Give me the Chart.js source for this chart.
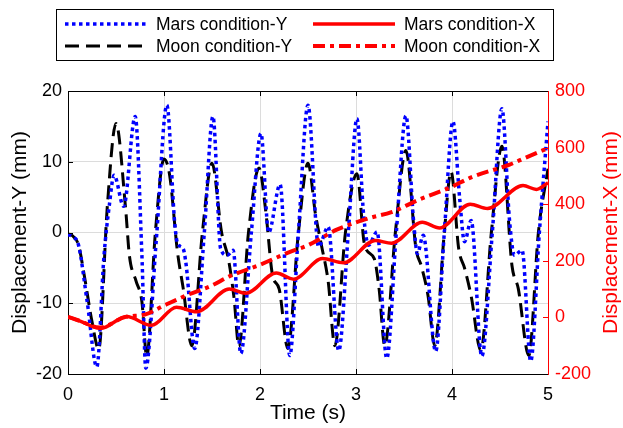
<!DOCTYPE html>
<html>
<head>
<meta charset="utf-8">
<script src="https://cdn.jsdelivr.net/npm/chart.js@4.4.0/dist/chart.umd.min.js"></script>
<style>
  html, body { margin: 0; padding: 0; background: #fff; }
  canvas { display: block; }
</style>
</head>
<body>
<canvas id="chart" width="623" height="428"></canvas>
<script>
// values (time in s, displacement in mm)
const marsYTime = [0, 0.05, 0.11, 0.2, 0.30, 0.375, 0.43, 0.48, 0.58, 0.70, 0.77, 0.81, 0.92, 1.03, 1.11,
  1.14, 1.20, 1.23, 1.32, 1.42, 1.51, 1.59, 1.66, 1.72, 1.80, 1.91, 2.01, 2.09, 2.21, 2.31,
  2.40, 2.50, 2.61, 2.71, 2.82, 2.92, 3.01, 3.08, 3.13, 3.22, 3.32, 3.42, 3.52, 3.60, 3.64,
  3.70, 3.83, 3.92, 4.01, 4.08, 4.13, 4.20, 4.31, 4.42, 4.52, 4.60, 4.65, 4.73, 4.82, 4.91, 5.0];
const marsY = [-0.3, -0.6, -1.8, -9.8, -19.0, -3.3, 3.8, 8.1, 3.7, 16.4, -3.3, -19.2, -1, 18.0, 1.6,
  -1.5, -2.3, -4.5, -16.4, 0, 16.4, -2.3, -3.2, -2.5, -17.1, 0, 14.0, 0, 6.8, -17.4,
  0, 18.0, -2, 0.8, -16.7, 0, 16.1, 2.4, -1.8, 0.1, -17.8, 0, 16.5, 1.6, -3,
  -0.4, -16.8, 0, 15.7, 4.8, -1.3, 1.7, -17.5, 0, 17.5, 1.6, -3.2, -2.5, -18.2, 0, 15.7];

const moonYTime = [0, 0.05, 0.11, 0.17, 0.25, 0.32, 0.41, 0.50, 0.60, 0.64, 0.71, 0.77, 0.82, 0.91, 1.00,
  1.06, 1.14, 1.20, 1.29, 1.40, 1.50, 1.60, 1.67, 1.73, 1.78, 1.88, 1.99, 2.06, 2.13, 2.20,
  2.29, 2.40, 2.50, 2.58, 2.64, 2.71, 2.78, 2.89, 3.01, 3.09, 3.19, 3.24, 3.30, 3.41, 3.52,
  3.625, 3.68, 3.75, 3.82, 3.92, 3.99, 4.07, 4.13, 4.20, 4.30, 4.41, 4.52, 4.625, 4.69, 4.80, 4.90, 5.0];
const moonY = [-0.2, -0.5, -1.8, -6.1, -12.6, -16.5, 3.8, 15.4, 3.4, -3.3, -6.9, -9.8, -17.5, 0, 10.4,
  8, -2.7, -7.9, -16, 0, 9.8, 0, -3.7, -9.3, -16.1, 0, 9.1, 3, -6, -8,
  -16.4, 0, 9.8, 2.4, -1.8, -6.9, -16, 0, 8.3, -1.8, -3.7, -7.9, -16, 0, 11.6,
  -2.3, -4.7, -8.9, -16, 0, 8.6, -2.3, -5, -9, -16.7, 0, 12.2, -4.7, -7.9, -17.4, 0, 9];

const marsXTime = [0, 0.12, 0.34, 0.61, 0.87, 1.13, 1.34, 1.68, 1.85, 2.17, 2.35, 2.65, 2.87, 3.20, 3.37,
  3.69, 3.87, 4.19, 4.37, 4.74, 4.88, 5.0];
const marsX = [2, -12, -39, 3, -28, 36, 20, 100, 85, 157, 135, 208, 193, 272, 262,
  336, 316, 400, 385, 466, 452, 476];

const moonXTime = [0, 0.12, 0.33, 0.6, 0.8, 1.0, 1.25, 1.5, 1.68, 2.0, 2.3, 2.5, 2.8, 3.15, 3.37,
  3.65, 4.0, 4.2, 4.6, 4.75, 5.0];
const moonX = [2, -12, -36, 2, 10, 42, 80, 113, 145, 186, 230, 255, 310, 352, 372,
  415, 462, 495, 540, 562, 598];

const timeTicks = [0, 1, 2, 3, 4, 5];
const yTicks = [-20, -10, 0, 10, 20];
const xTicks = [-200, 0, 200, 400, 600, 800];

const FONT = '"Liberation Sans", Arial, sans-serif';

function pts(ts, vs) {
  return ts.map((t, i) => ({ x: t, y: vs[i] }));
}

// inward tick marks, top frame line
const frame = {
  id: 'frame',
  afterDraw(chart) {
    const { ctx, chartArea: a, scales } = chart;
    ctx.save();
    ctx.lineWidth = 1;
    ctx.strokeStyle = '#000';
    ctx.beginPath();
    ctx.moveTo(a.left, a.top + 0.5);
    ctx.lineTo(a.right, a.top + 0.5);
    timeTicks.slice(1, -1).forEach(v => {
      const x = Math.round(scales.x.getPixelForValue(v)) + 0.5;
      ctx.moveTo(x, a.bottom); ctx.lineTo(x, a.bottom - 5);
      ctx.moveTo(x, a.top); ctx.lineTo(x, a.top + 5);
    });
    yTicks.slice(1, -1).forEach(v => {
      const y = Math.round(scales.y.getPixelForValue(v)) + 0.5;
      ctx.moveTo(a.left, y); ctx.lineTo(a.left + 5, y);
    });
    ctx.stroke();
    ctx.strokeStyle = '#f00';
    ctx.beginPath();
    xTicks.slice(1, -1).forEach(v => {
      const y = Math.round(scales.y2.getPixelForValue(v)) + 0.5;
      ctx.moveTo(a.right, y); ctx.lineTo(a.right - 5, y);
    });
    ctx.stroke();

    // right axis title reads bottom-to-top like the left one
    ctx.fillStyle = '#f00';
    ctx.font = '21px ' + FONT;
    ctx.textAlign = 'center';
    ctx.textBaseline = 'middle';
    ctx.translate(611, (a.top + a.bottom) / 2);
    ctx.rotate(-Math.PI / 2);
    ctx.fillText('Displacement-X (mm)', 0, 0);
    ctx.restore();
  }
};

// boxed two-column legend
const boxLegend = {
  id: 'boxLegend',
  afterDraw(chart) {
    const { ctx } = chart;
    const ds = chart.data.datasets;
    const slots = [
      { i: 0, x: 65, y: 24 }, { i: 1, x: 65, y: 46 },
      { i: 2, x: 313, y: 24 }, { i: 3, x: 313, y: 46 }
    ];
    ctx.save();
    ctx.fillStyle = '#fff';
    ctx.fillRect(56, 9, 498, 52);
    ctx.strokeStyle = '#000';
    ctx.lineWidth = 1;
    ctx.strokeRect(56.5, 9.5, 497, 51);
    slots.forEach(s => {
      const d = ds[s.i];
      ctx.beginPath();
      ctx.strokeStyle = d.borderColor;
      ctx.lineWidth = d.borderWidth;
      ctx.setLineDash(d.borderDash || []);
      ctx.moveTo(s.x, s.y);
      ctx.lineTo(s.x + 82, s.y);
      ctx.stroke();
      ctx.setLineDash([]);
      ctx.fillStyle = '#000';
      ctx.font = '17.5px ' + FONT;
      ctx.textAlign = 'left';
      ctx.textBaseline = 'middle';
      ctx.fillText(d.label, s.x + 91, s.y + 1);
    });
    ctx.restore();
  }
};

new Chart(document.getElementById('chart'), {
  type: 'line',
  data: {
    datasets: [
      {
        label: 'Mars condition-Y', data: pts(marsYTime, marsY), yAxisID: 'y',
        borderColor: '#0000ff', borderWidth: 3.5, borderDash: [3.5, 3.5], order: 2
      },
      {
        label: 'Moon condition-Y', data: pts(moonYTime, moonY), yAxisID: 'y',
        borderColor: '#000000', borderWidth: 3, borderDash: [14, 7], order: 3
      },
      {
        label: 'Mars condition-X', data: pts(marsXTime, marsX), yAxisID: 'y2',
        borderColor: '#ff0000', borderWidth: 3.5, order: 1
      },
      {
        label: 'Moon condition-X', data: pts(moonXTime, moonX), yAxisID: 'y2',
        borderColor: '#ff0000', borderWidth: 4, borderDash: [12, 5, 4, 5], order: 0
      }
    ]
  },
  options: {
    responsive: false,
    devicePixelRatio: 1,
    animation: false,
    layout: { padding: { top: 91, left: 0, right: 0, bottom: 0 } },
    elements: {
      point: { radius: 0 },
      line: { cubicInterpolationMode: 'monotone', fill: false, borderCapStyle: 'butt' }
    },
    plugins: { legend: { display: false }, tooltip: { enabled: false } },
    scales: {
      x: {
        type: 'linear', min: 0, max: 5,
        afterBuildTicks: s => { s.ticks = timeTicks.map(v => ({ value: v })); },
        afterFit: s => { s.height = 54; },
        ticks: { color: '#000', font: { family: FONT, size: 18 }, padding: 10, maxRotation: 0 },
        grid: { color: '#dcdcdc', drawTicks: false },
        border: { color: '#000' },
        title: {
          display: true, text: 'Time (s)', color: '#000',
          font: { family: FONT, size: 21, lineHeight: 1 }, padding: { top: 0, bottom: 4 }
        }
      },
      y: {
        position: 'left', min: -20, max: 20,
        afterBuildTicks: s => { s.ticks = yTicks.map(v => ({ value: v })); },
        afterFit: s => { s.width = 68; },
        ticks: { color: '#000', font: { family: FONT, size: 18 }, padding: 6 },
        grid: { color: '#dcdcdc', drawTicks: false },
        border: { color: '#000' },
        title: {
          display: true, text: 'Displacement-Y (mm)', color: '#000',
          font: { family: FONT, size: 21, lineHeight: 1 }, padding: { top: 10, bottom: 0 }
        }
      },
      y2: {
        position: 'right', min: -200, max: 800,
        afterBuildTicks: s => { s.ticks = xTicks.map(v => ({ value: v })); },
        afterFit: s => { s.width = 75; },
        ticks: { color: '#f00', font: { family: FONT, size: 18 }, padding: 7 },
        grid: { display: false, drawTicks: false },
        border: { color: '#f00' }
      }
    }
  },
  plugins: [frame, boxLegend]
});
</script>
</body>
</html>
